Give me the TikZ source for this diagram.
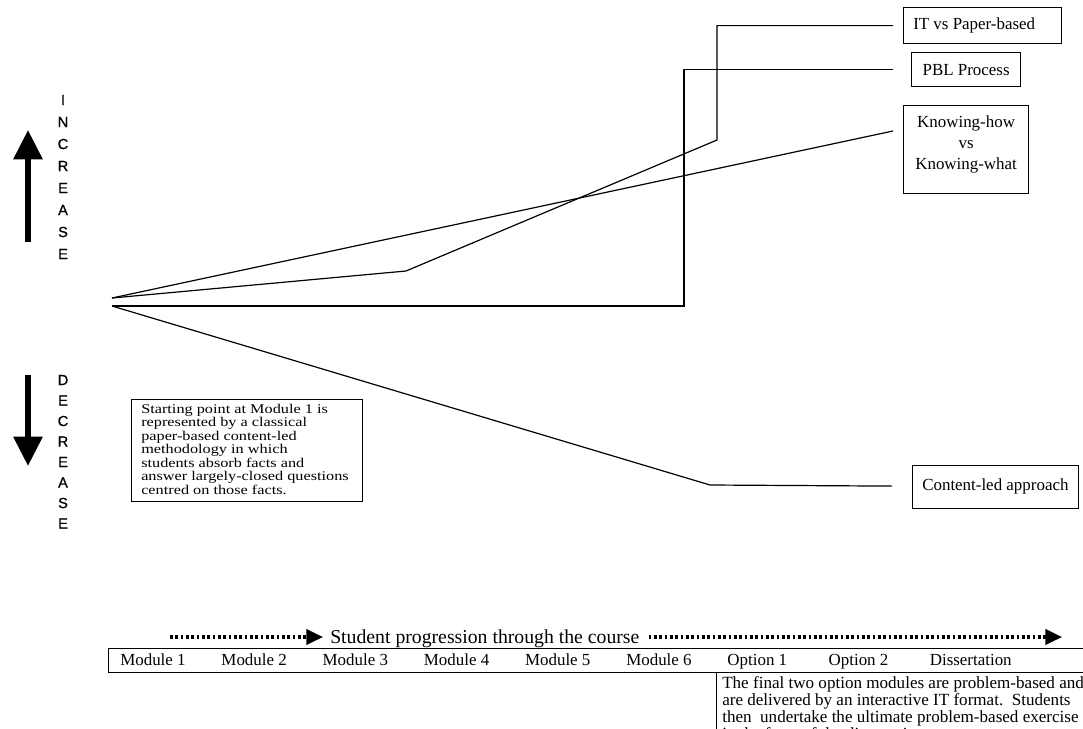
\documentclass[tikz,border=0pt]{standalone}
\usepackage{fontspec}
\setmainfont{Liberation Serif}
\newfontfamily\sidefont[FakeBold=0.8]{Liberation Sans}
\newfontfamily\widefont[FakeStretch=1.22]{Liberation Serif}
\usetikzlibrary{arrows.meta,calc}
\tikzset{
  conn/.style={line width=0.9pt, line join=miter},
  boxsh/.style={draw, line width=0.9pt, inner sep=0pt, anchor=north west},
  lbl/.style={inner sep=0pt, font=\fontsize{12.7}{15}\selectfont},
  modlbl/.style={anchor=base west, inner sep=0pt, font=\fontsize{12.7}{15}\selectfont},
  sidelet/.style={inner sep=0pt, font=\sidefont\fontsize{11}{12}\selectfont},
  bigarrow/.style={line width=4.5pt, -{Triangle[length=22pt,width=21pt]}},
  progline/.style={line width=2.4pt, dash pattern=on 2.1pt off 1.9pt, -{Triangle[length=12.5pt,width=11.5pt]}},
}
\begin{document}
\begin{tikzpicture}[x=0.75pt,y=-0.75pt]
\useasboundingbox (0,0) rectangle (1083,729);
\clip (0,0) rectangle (1083,729);

% side arrows
\coordinate (upB) at (28,242);
\coordinate (upT) at (28,130);
\draw[bigarrow] (upB) -- (upT);
\coordinate (dnT) at (28,375);
\coordinate (dnB) at (28,466);
\draw[bigarrow] (dnT) -- (dnB);

% side letters
\foreach \l [count=\i from 0] in {I,N,C,R,E,A,S,E}
  \node[sidelet] (inc\i) at (63,100+22*\i) {\l};
\foreach \l [count=\i from 0] in {D,E,C,R,E,A,S,E}
  \node[sidelet] (dec\i) at (63,380+20.5*\i) {\l};

% boxes on the right
\node[boxsh, minimum width=118.5pt, minimum height=27pt] (itbox) at (903,7) {};
\node[lbl, anchor=west] (ittxt) at (913,25) {IT vs Paper-based};
\node[boxsh, minimum width=81.75pt, minimum height=25.5pt] (pblbox) at (911,52) {};
\node[lbl] (pbltxt) at (pblbox.center) {PBL Process};
\node[boxsh, minimum width=93.75pt, minimum height=66pt] (know) at (903,105) {};
\node[lbl, anchor=north, align=center, font=\fontsize{12.7}{15.75}\selectfont] (knowtxt)
  at ($(know.north)+(0,10)$) {Knowing-how\\vs\\Knowing-what};
\node[boxsh, minimum width=124.5pt, minimum height=32.25pt] (cont) at (912,465) {};
\node[lbl, anchor=west] (conttxt) at (922,486) {Content-led approach};

% starting box
\node[boxsh, minimum width=173.25pt, minimum height=76.5pt] (start) at (131,399) {};
\node[anchor=north west, inner sep=0pt, align=left, font=\widefont\fontsize{10}{10.1}\selectfont]
  (starttxt) at (141,404) {Starting point at Module 1 is\\represented by a classical\\paper-based content-led\\methodology in which\\students absorb facts and\\answer largely-closed questions\\centred on those facts.};

% connectors
\coordinate (O1) at (112,298);
\coordinate (O2) at (112,306);
\draw[conn] (O1) -- (406,271) -- (717,140) |- ($(itbox.west)+(-10,0)$);
\draw[conn] (O2) -- (684,306) |- ($(pblbox.west)+(-18,0)$);
\draw[conn] (O1) -- ($(know.north west)+(-10,26)$);
\draw[conn] (O2) -- (710,485) -- ($(cont.west)+(-20,-1)$);

% progression arrow
\node[anchor=base west, inner sep=0pt, font=\fontsize{14.8}{16}\selectfont] (prog)
  at (330,643.5) {Student progression through the course};
\coordinate (ps) at (170,637);
\coordinate (pe) at (1062,637);
\draw[progline] (ps) -- ($(prog.base west)+(-7,-6.5)$);
\draw[progline] ($(prog.base east)+(9,-6.5)$) -- (pe);

% module row
\node[boxsh, minimum width=745pt, minimum height=18pt] (row) at (108,648) {};
\foreach \t [count=\i from 0] in {Module 1,Module 2,Module 3,Module 4,Module 5,Module 6,Option 1,Option 2,Dissertation}
  \node[modlbl] (m\i) at (120+101.2*\i,665.5) {\t};

% final box
\node[boxsh, minimum width=300pt, minimum height=60pt] (final) at (716,672) {};
\node[anchor=north west, inner sep=0pt, align=left, font=\fontsize{12.8}{12.9}\selectfont]
  (finaltxt) at (722,676) {The final two option modules are problem-based and\\are delivered by an interactive IT format.\ \ Students\\then\ \ undertake the ultimate problem-based exercise\\in the form of the dissertation.};
\end{tikzpicture}
\end{document}
